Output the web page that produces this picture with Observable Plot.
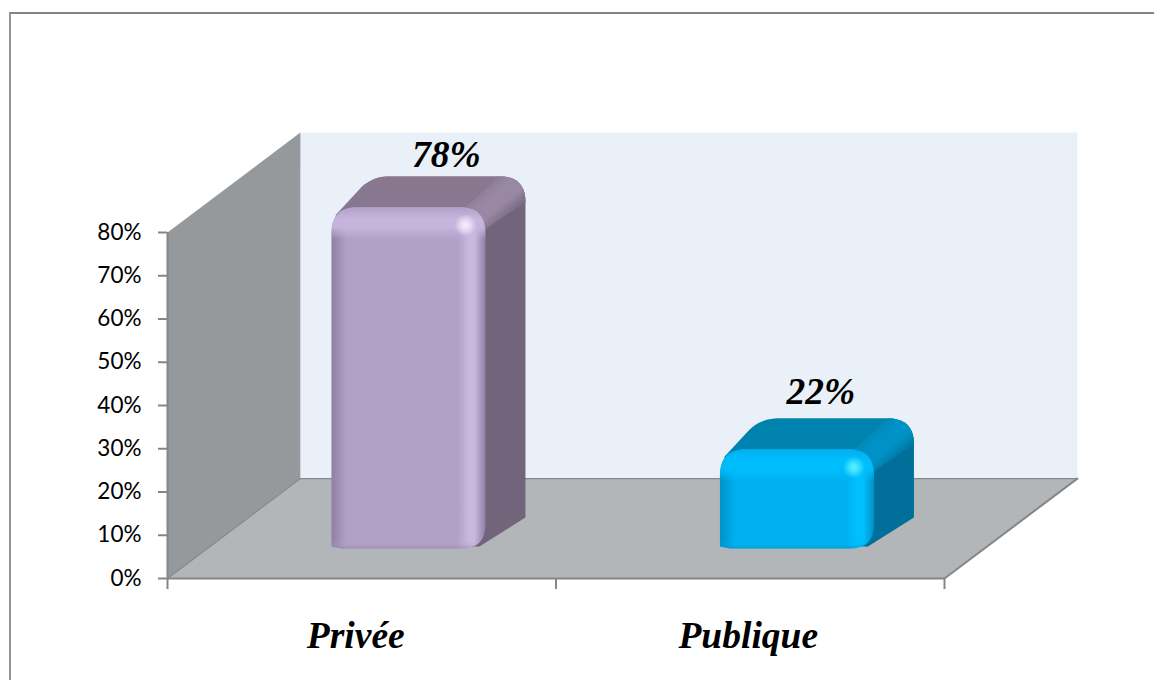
<!DOCTYPE html>
<html>
<head>
<meta charset="utf-8">
<script src="https://cdn.jsdelivr.net/npm/d3@7"></script>
<script src="https://cdn.jsdelivr.net/npm/@observablehq/plot@0.6"></script>
<style>
  html, body { margin: 0; padding: 0; background: #fff; overflow: hidden; }
  #wrap { position: relative; width: 1154px; height: 680px; }
  #wrap svg { display: block; position: absolute; left: 0; top: 0; overflow: visible; }
  #frame { position: absolute; left: 9px; top: 12px; right: 0; bottom: 0;
           border-top: 2.5px solid #858585; border-left: 2.5px solid #969696; }
</style>
</head>
<body>
<div id="wrap"><div id="frame"></div></div>
<script>
const categories = ["Privée", "Publique"];
const shares = [78, 22];
const shareLabels = ["78%", "22%"];
const yTicks = [0, 10, 20, 30, 40, 50, 60, 70, 80];
const xEdges = [0, 1, 2];
const frontColors = ["#B1A0C7", "#00B0F0"];
const lightColors = ["#C8B8DF", "#00BFFF"];
const darkColors = ["#8F7FA5", "#0091C8"];
const topColors = ["#87788F", "#0082AE"];
const bandColors = ["#9888A4", "#0092C6"];
const sideColors = ["#72647A", "#00709A"];
const glowColors = ["#F6EEFF", "#5CF0FF"];

// chart geometry
const xRange = [167, 944], yRange = [578, 232];
const pxX = (xRange[1] - xRange[0]) / 2;
const pxY = (yRange[0] - yRange[1]) / 80;
const wallX = 0.342, wallY = 23.1;
const barW = 154, depthX = 40, depthY = 31, baseLift = 30, bevel = 4;

const left = (i) => i + 0.422;
const P = (i, dx, up, r = 0) => ({x: left(i) + dx / pxX, y: (baseLift + up) / pxY, r});

// sample a polygon with rounded corners (radii in px), in data units
function rounded(pts) {
  const out = [], n = pts.length;
  pts.forEach((p, k) => {
    if (!p.r) { out.push({x: p.x, y: p.y}); return; }
    const a = pts[(k - 1 + n) % n], b = pts[(k + 1) % n];
    const toward = (q) => {
      const dx = (q.x - p.x) * pxX, dy = (q.y - p.y) * pxY, len = Math.hypot(dx, dy);
      const t = Math.min(p.r, len) / len;
      return {x: p.x + (q.x - p.x) * t, y: p.y + (q.y - p.y) * t};
    };
    const s = toward(a), e = toward(b);
    for (let j = 0; j <= 10; j++) {
      const t = j / 10, u = 1 - t;
      out.push({
        x: u * u * s.x + 2 * u * t * p.x + t * t * e.x,
        y: u * u * s.y + 2 * u * t * p.y + t * t * e.y
      });
    }
  });
  return out;
}
const poly = (pts, fill) => Plot.line(rounded(pts), {x: "x", y: "y", fill, stroke: "none", curve: "linear"});

function barMarks(v, i) {
  const H = v * pxY + bevel;
  const topD = H + depthY;
  return [
    poly([P(i, 140, H), P(i, barW + depthX, topD, 26), P(i, barW + depthX, depthY, 1), P(i, barW - 6, 2), P(i, 140, 2)], sideColors[i]),
    poly([P(i, 4, H - 8), P(i, depthX, topD, 18), P(i, barW + depthX, topD, 26), P(i, barW + depthX, H + 5), P(i, barW, H - 20), P(i, 30, H - 20)], topColors[i]),
    poly([P(i, 132, H - 2), P(i, 168, topD), P(i, barW + depthX, topD, 26), P(i, barW + depthX, H + 5), P(i, barW, H - 22)], `url(#band${i})`),
    poly([P(i, 0, 2), P(i, 0, H, 26), P(i, barW, H, 26), P(i, barW, 0, 24), P(i, 10, 0)], `url(#h${i})`),
    poly([P(i, 0, 2), P(i, 0, H, 26), P(i, barW, H, 26), P(i, barW, 0, 24), P(i, 10, 0)], `url(#v${i})`),
    Plot.dot([P(i, 134, H - 18)], {x: "x", y: "y", r: 11, fill: `url(#glow${i})`, stroke: "none"})
  ];
}

function defsMark() {
  const defs = d3.create("svg:defs");
  const stops = (g, list) => list.forEach(([o, c, a = 1]) =>
    g.append("stop").attr("offset", o).attr("stop-color", c).attr("stop-opacity", a));
  shares.forEach((v, i) => {
    const H = v * pxY + bevel;
    stops(defs.append("linearGradient").attr("id", `h${i}`), [
      [0, darkColors[i]], [0.1, frontColors[i]], [0.82, frontColors[i]],
      [0.89, lightColors[i]], [0.93, lightColors[i]], [1, darkColors[i]]
    ]);
    stops(defs.append("linearGradient").attr("id", `v${i}`).attr("x1", 0).attr("x2", 0).attr("y1", 0).attr("y2", 1), [
      [0, frontColors[i], 1], [12 / H, lightColors[i], 0.9], [20 / H, lightColors[i], 0.9],
      [32 / H, lightColors[i], 0], [1 - 8 / H, lightColors[i], 0], [1, darkColors[i], 0.5]
    ]);
    stops(defs.append("linearGradient").attr("id", `band${i}`).attr("x1", 0).attr("y1", 0).attr("x2", 1).attr("y2", 1), [
      [0.2, topColors[i]], [0.42, bandColors[i]], [0.58, bandColors[i]], [0.78, sideColors[i]]
    ]);
    stops(defs.append("radialGradient").attr("id", `glow${i}`), [
      [0, glowColors[i], 1], [0.4, glowColors[i], 0.7], [1, glowColors[i], 0]
    ]);
  });
  return defs.node();
}

const line = "#868686";
const serif = {fontFamily: "Liberation Serif", fontWeight: "bold", fontStyle: "italic", fontSize: 37.5, fill: "#000"};
const chart = Plot.plot({
  width: 1154,
  height: 680,
  marginLeft: xRange[0],
  marginRight: 1154 - xRange[1],
  marginTop: yRange[1],
  marginBottom: 680 - yRange[0],
  style: {background: "transparent", fontFamily: "Lato", overflow: "visible"},
  x: {type: "linear", domain: [0, 2]},
  y: {type: "linear", domain: [0, 80]},
  marks: [
    defsMark,
    poly([{x: wallX, y: wallY}, {x: wallX, y: 80 + wallY}, {x: 2 + wallX, y: 80 + wallY}, {x: 2 + wallX, y: wallY}], "#E9F0F7"),
    poly([{x: 0, y: 0}, {x: 0, y: 80}, {x: wallX, y: 80 + wallY}, {x: wallX, y: wallY}], "#95999B"),
    poly([{x: 0, y: 0}, {x: wallX, y: wallY}, {x: 2 + wallX, y: wallY}, {x: 2, y: 0}], "#B2B6B9"),
    Plot.line([{x: 0, y: 0}, {x: wallX, y: wallY}, {x: 2 + wallX, y: wallY}], {x: "x", y: "y", stroke: "#85898B", strokeWidth: 1.2}),
    Plot.line([{x: 2, y: 0}, {x: 2 + wallX, y: wallY}], {x: "x", y: "y", stroke: line, strokeWidth: 2}),
    ...shares.flatMap(barMarks),
    Plot.ruleX([0], {y1: 0, y2: 80, stroke: line, strokeWidth: 2}),
    Plot.ruleY([0], {x1: 0, x2: 2, stroke: line, strokeWidth: 2}),
    Plot.axisY({
      ticks: yTicks, label: null, tickSize: 9, tickPadding: 17, tickFormat: (d) => d + "%",
      fontSize: 22.5, stroke: line, strokeWidth: 2, fill: "#000", textStroke: "none"
    }),
    Plot.axisX({ticks: xEdges, label: null, tickSize: 11, tickFormat: () => "", stroke: line, strokeWidth: 2}),
    Plot.text([categories[0]], {x: [0.5], y: [0], dy: 57, dx: -6, text: (d) => d, ...serif}),
    Plot.text([categories[1]], {x: [1.5], y: [0], dy: 57, dx: -2, text: (d) => d, ...serif}),
    Plot.text([shareLabels[0]], {
      x: [left(0)], y: [(baseLift + shares[0] * pxY + bevel + depthY) / pxY], dx: 115, dy: -21, text: (d) => d, ...serif
    }),
    Plot.text([shareLabels[1]], {
      x: [left(1)], y: [(baseLift + shares[1] * pxY + bevel + depthY) / pxY], dx: 101, dy: -26, text: (d) => d, ...serif
    })
  ]
});
document.getElementById("wrap").appendChild(chart);
</script>
</body>
</html>
